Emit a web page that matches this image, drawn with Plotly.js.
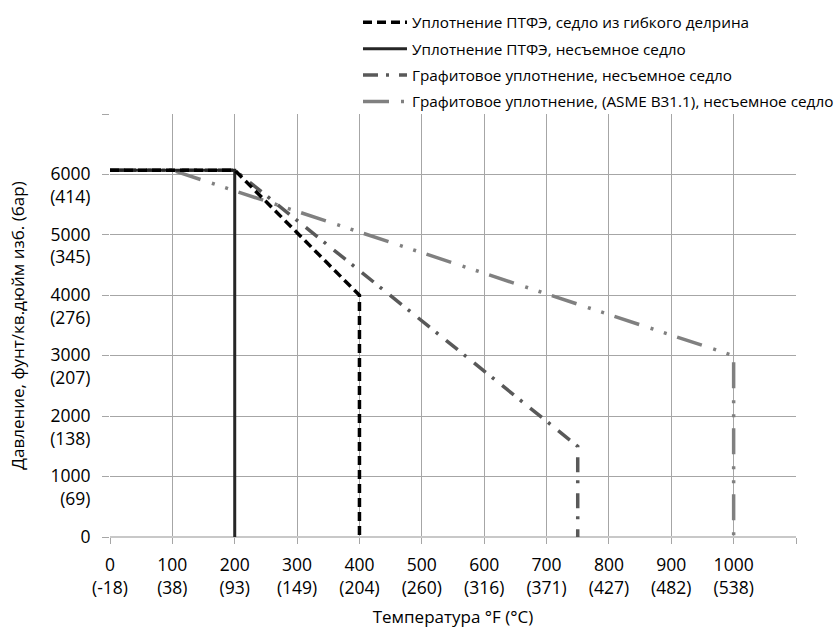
<!DOCTYPE html>
<html>
<head>
<meta charset="utf-8">
<script src="https://cdn.plot.ly/plotly-3.0.1.min.js"></script>
<style>html,body{margin:0;padding:0;background:#fff;}#chart{width:838px;height:628px;}</style>
</head>
<body>
<div id="chart"></div>
<script>
// Series names
const seriesNames = [
  "Уплотнение ПТФЭ, седло из гибкого делрина",
  "Уплотнение ПТФЭ, несъемное седло",
  "Графитовое уплотнение, несъемное седло",
  "Графитовое уплотнение, (ASME B31.1), несъемное седло"
];
// Temperature (°F) and pressure (psi) points for each series
const ptfeDelrinT = [0, 200, 400, 400];
const ptfeDelrinP = [6070, 6070, 4000, 0];
const ptfeFixedT = [0, 200, 200];
const ptfeFixedP = [6070, 6070, 0];
const graphiteT = [0, 200, 750, 750];
const graphiteP = [6070, 6070, 1500, 0];
const graphiteAsmeT = [0, 100, 1000, 1000];
const graphiteAsmeP = [6070, 6070, 3000, 0];
// Axis ticks
const xTickVals = [0, 100, 200, 300, 400, 500, 600, 700, 800, 900, 1000, 1100];
const xTickText = ["0<br>(-18)", "100<br>(38)", "200<br>(93)", "300<br>(149)", "400<br>(204)", "500<br>(260)", "600<br>(316)", "700<br>(371)", "800<br>(427)", "900<br>(482)", "1000<br>(538)", ""];
const yTickVals = [0, 1000, 2000, 3000, 4000, 5000, 6000, 7000];
const yTickText = ["0<br> ", "1000<br>(69)", "2000<br>(138)", "3000<br>(207)", "4000<br>(276)", "5000<br>(345)", "6000<br>(414)", ""];

const FONT = "Open Sans, Noto Sans, sans-serif";

const traces = [
  {x: graphiteAsmeT, y: graphiteAsmeP, name: seriesNames[3], legendrank: 4, legendgroup: "d",
   mode: "lines", line: {color: "#808080", width: 3.5, dash: "26px,12px,3px,11px,3px,11px"}},
  {x: graphiteT, y: graphiteP, name: seriesNames[2], legendrank: 3, legendgroup: "c",
   mode: "lines", line: {color: "#595959", width: 3.5, dash: "15px,8px,3px,10px"}},
  {x: ptfeFixedT, y: ptfeFixedP, name: seriesNames[1], legendrank: 2, legendgroup: "b",
   mode: "lines", line: {color: "#262626", width: 3}},
  {x: ptfeDelrinT, y: ptfeDelrinP, name: seriesNames[0], legendrank: 1, legendgroup: "a",
   mode: "lines", line: {color: "#000000", width: 3.5, dash: "9px,5px"}}
];

const layout = {
  width: 838, height: 628,
  margin: {l: 110, r: 42, t: 114, b: 91, autoexpand: false},
  paper_bgcolor: "#ffffff", plot_bgcolor: "#ffffff",
  font: {family: FONT, color: "#000000", size: 16},
  showlegend: true,
  legend: {
    x: 0.3615, xanchor: "left", y: 1.2557, yanchor: "top",
    font: {family: FONT, size: 15.3, color: "#000000"},
    bgcolor: "rgba(0,0,0,0)", borderwidth: 0,
    tracegroupgap: 3.5, itemwidth: 44, traceorder: "grouped"
  },
  xaxis: {
    range: [0, 1100], tickmode: "array", tickvals: xTickVals, ticktext: xTickText,
    showgrid: true, gridcolor: "#a6a6a6", gridwidth: 1,
    zeroline: false, showline: false,
    ticks: "outside", ticklen: 6, tickcolor: "#a6a6a6", tickwidth: 1,
    tickfont: {family: FONT, size: 17.5, color: "#000000"},
    ticklabelstandoff: 6,
    automargin: true,
    title: {text: "Температура °F (°C)", font: {family: FONT, size: 17, color: "#000000"}, standoff: 16},
    fixedrange: true
  },
  yaxis: {
    range: [0, 7000], tickmode: "array", tickvals: yTickVals, ticktext: yTickText,
    showgrid: true, gridcolor: "#a6a6a6", gridwidth: 1,
    zeroline: true, zerolinecolor: "#c8c8c8", zerolinewidth: 2,
    showline: false,
    ticks: "outside", ticklen: 7, tickcolor: "#a6a6a6", tickwidth: 1,
    tickfont: {family: FONT, size: 17.5, color: "#000000"},
    ticklabelstandoff: 8, ticklabelshift: 11,
    automargin: true,
    title: {text: "Давление, фунт/кв.дюйм изб. (бар)", font: {family: FONT, size: 17, color: "#000000"}, standoff: 21},
    fixedrange: true
  }
};

Plotly.newPlot("chart", traces, layout, {displayModeBar: false, staticPlot: true});
</script>
</body>
</html>
